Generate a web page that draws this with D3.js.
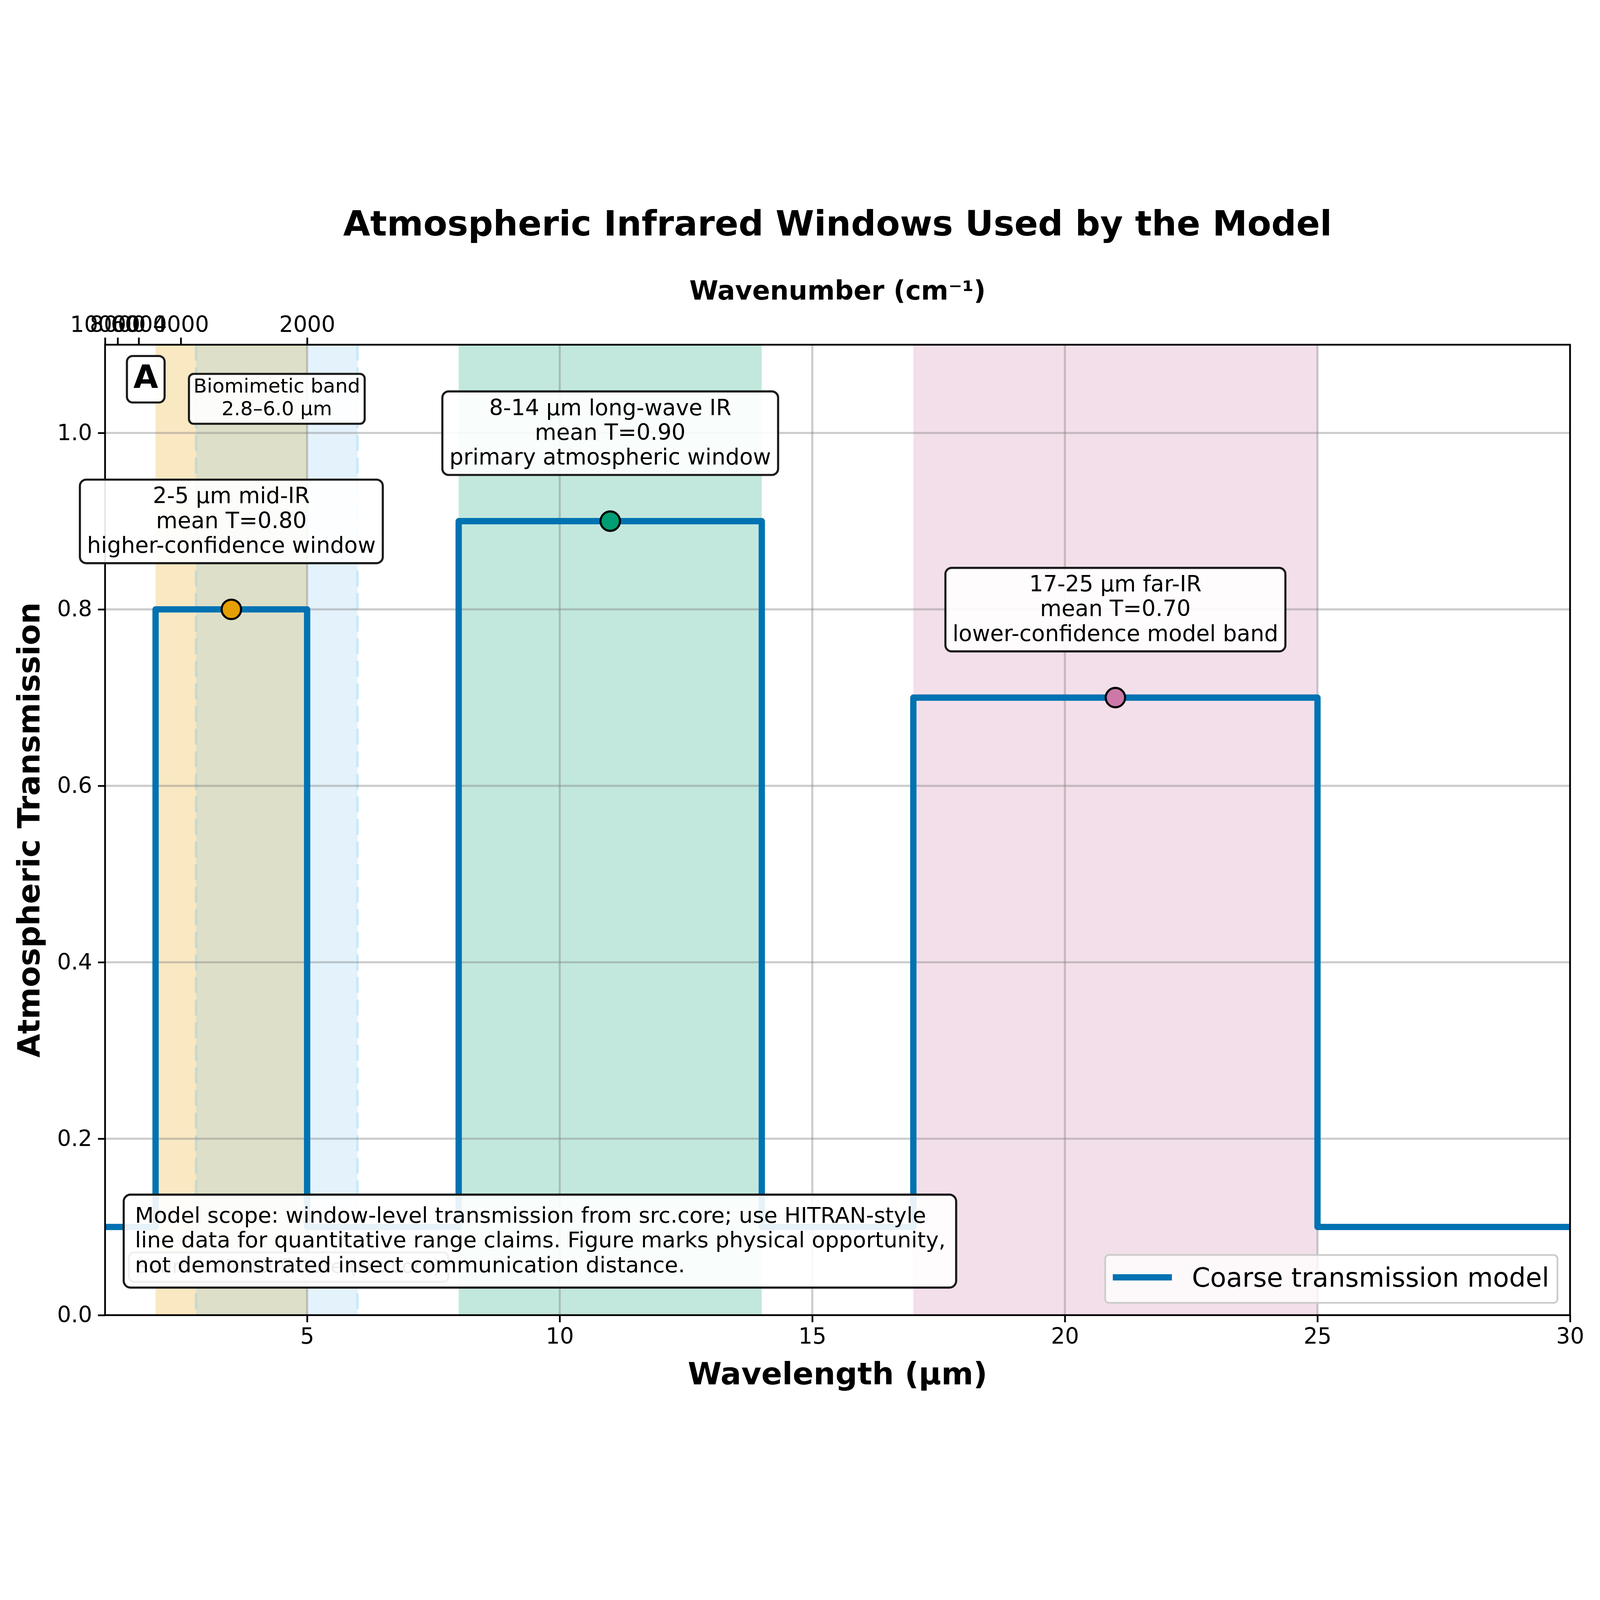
<!DOCTYPE html>
<html lang="en">
<head>
<meta charset="utf-8">
<title>Atmospheric Infrared Windows</title>
<script src="https://cdn.jsdelivr.net/npm/d3@7"></script>
<style>
  html, body { margin: 0; padding: 0; background: #fff; overflow: hidden; }
  svg { display: block; font-family: "DejaVu Sans", sans-serif; }
</style>
</head>
<body>
<script>
// ---- data ----
var wavelengthEdges = [1, 2, 5, 8, 14, 17, 25, 30];
var transmission   = [0.1, 0.8, 0.1, 0.9, 0.1, 0.7, 0.1, 0.1];

var windowNames  = ["2-5 \u00b5m mid-IR", "8-14 \u00b5m long-wave IR", "17-25 \u00b5m far-IR"];
var windowStart  = [2, 8, 17];
var windowEnd    = [5, 14, 25];
var windowMeanT  = [0.80, 0.90, 0.70];
var windowNotes  = ["higher-confidence window", "primary atmospheric window", "lower-confidence model band"];
var windowColors = ["#E69F00", "#009E73", "#CC79A7"];

var bioBand = [2.8, 6.0];
var bioLabel = ["Biomimetic band", "2.8\u20136.0 \u00b5m"];

var xTicks = [5, 10, 15, 20, 25, 30];
var yTicks = [0, 0.2, 0.4, 0.6, 0.8, 1.0];
var wavenumberTicks = [10000, 8000, 6000, 4000, 2000];

var scopeLines = [
  "Model scope: window-level transmission from src.core; use HITRAN-style",
  "line data for quantitative range claims. Figure marks physical opportunity,",
  "not demonstrated insect communication distance."
];
var sourceNote = "Source: Model fixture (src.core)";
var legendLabel = "Coarse transmission model";

// ---- layout ----
var W = 6092, H = 4621;
var pL = 400, pR = 5978, pT = 577, pB = 4272;
var lw = 6.65;          // 1pt
var tickFont = 84;

var svg = d3.select("body").append("svg")
  .attr("viewBox", "0 0 " + W + " " + H)
  .attr("preserveAspectRatio", "xMidYMid meet")
  .style("width", "100vw").style("height", "100vh");
svg.append("rect").attr("width", W).attr("height", H).attr("fill", "#fff");

var x = d3.scaleLinear().domain([1, 30]).range([pL, pR]);
var y = d3.scaleLinear().domain([0, 1.1]).range([pB, pT]);

svg.append("clipPath").attr("id", "plot")
  .append("rect").attr("x", pL).attr("y", pT)
  .attr("width", pR - pL).attr("height", pB - pT);

var plot = svg.append("g").attr("clip-path", "url(#plot)");

// window bands
windowStart.forEach(function(s, i) {
  plot.append("rect")
    .attr("x", x(s)).attr("y", pT)
    .attr("width", x(windowEnd[i]) - x(s)).attr("height", pB - pT)
    .attr("fill", windowColors[i]).attr("fill-opacity", 0.24);
});

// biomimetic band
plot.append("rect")
  .attr("x", x(bioBand[0])).attr("y", pT)
  .attr("width", x(bioBand[1]) - x(bioBand[0])).attr("height", pB - pT)
  .attr("fill", "#56B4E9").attr("fill-opacity", 0.17);
bioBand.forEach(function(b) {
  plot.append("line")
    .attr("x1", x(b)).attr("x2", x(b)).attr("y1", pT).attr("y2", pB)
    .attr("stroke", "#56B4E9").attr("stroke-opacity", 0.22)
    .attr("stroke-width", 10).attr("stroke-dasharray", "60,26");
});

// grid
xTicks.forEach(function(t) {
  plot.append("line").attr("x1", x(t)).attr("x2", x(t)).attr("y1", pT).attr("y2", pB)
    .attr("stroke", "#808080").attr("stroke-opacity", 0.4).attr("stroke-width", 8);
});
yTicks.forEach(function(t) {
  plot.append("line").attr("x1", pL).attr("x2", pR).attr("y1", y(t)).attr("y2", y(t))
    .attr("stroke", "#808080").attr("stroke-opacity", 0.4).attr("stroke-width", 8);
});

// step line
var stepData = wavelengthEdges.map(function(w, i) { return [w, transmission[i]]; });
var line = d3.line()
  .x(function(d) { return x(d[0]); })
  .y(function(d) { return y(d[1]); })
  .curve(d3.curveStepAfter);
plot.append("path").datum(stepData)
  .attr("d", line).attr("fill", "none")
  .attr("stroke", "#0072B2").attr("stroke-width", 24)
  .attr("stroke-linejoin", "round");

// window mean markers
windowStart.forEach(function(s, i) {
  var mx = (s + windowEnd[i]) / 2;
  plot.append("circle")
    .attr("cx", x(mx)).attr("cy", y(windowMeanT[i])).attr("r", 37)
    .attr("fill", windowColors[i]).attr("stroke", "#000").attr("stroke-width", 8);
});

// frame
svg.append("rect").attr("x", pL).attr("y", pT)
  .attr("width", pR - pL).attr("height", pB - pT)
  .attr("fill", "none").attr("stroke", "#000").attr("stroke-width", lw);

// axes
function styleAxis(g) {
  g.select(".domain").remove();
  g.selectAll(".tick line").attr("stroke", "#000").attr("stroke-width", lw);
  g.selectAll(".tick text").attr("fill", "#000")
    .attr("font-size", tickFont).attr("font-family", "DejaVu Sans");
}

svg.append("g").attr("transform", "translate(0," + pB + ")")
  .call(d3.axisBottom(x).tickValues(xTicks).tickSize(27).tickPadding(22).tickFormat(d3.format("d")))
  .call(styleAxis);

svg.append("g").attr("transform", "translate(" + pL + ",0)")
  .call(d3.axisLeft(y).tickValues(yTicks).tickSize(27).tickPadding(22).tickFormat(d3.format(".1f")))
  .call(styleAxis);

svg.append("g").attr("transform", "translate(0," + pT + ")")
  .call(d3.axisTop(x)
    .tickValues(wavenumberTicks.map(function(v) { return 1e4 / v; }))
    .tickSize(27).tickPadding(22)
    .tickFormat(function(d) { return String(Math.round(1e4 / d)); }))
  .call(styleAxis);

// labels
var cx = (pL + pR) / 2;
svg.append("text").attr("x", cx).attr("y", 162).attr("text-anchor", "middle")
  .attr("font-size", 133).attr("font-weight", "bold")
  .text("Atmospheric Infrared Windows Used by the Model");
svg.append("text").attr("x", cx).attr("y", 405).attr("text-anchor", "middle")
  .attr("font-size", 100).attr("font-weight", "bold")
  .text("Wavenumber (cm\u207b\u00b9)");
svg.append("text").attr("x", cx).attr("y", 4536).attr("text-anchor", "middle")
  .attr("font-size", 117).attr("font-weight", "bold")
  .text("Wavelength (\u00b5m)");
svg.append("text")
  .attr("transform", "translate(150," + ((pT + pB) / 2) + ") rotate(-90)")
  .attr("text-anchor", "middle")
  .attr("font-size", 117).attr("font-weight", "bold")
  .text("Atmospheric Transmission");

// text box helper
function textBox(lines, o) {
  var g = svg.append("g");
  var rect = g.append("rect");
  var t = g.append("text").attr("font-size", o.size)
    .attr("fill", o.color || "#000")
    .attr("text-anchor", o.anchor || "middle");
  lines.forEach(function(s, i) {
    t.append("tspan").attr("x", o.tx).attr("y", o.boxTop + o.first + i * o.gap).text(s);
  });
  var wMax = 0;
  t.selectAll("tspan").each(function() { wMax = Math.max(wMax, this.getComputedTextLength()); });
  var bx = (o.anchor === "start") ? o.tx - o.padL : o.tx - wMax / 2 - o.padX;
  var bw = (o.anchor === "start") ? wMax + o.padL + o.padR : wMax + 2 * o.padX;
  rect.attr("x", bx).attr("y", o.boxTop).attr("width", bw).attr("height", o.height)
    .attr("rx", o.rx || 24)
    .attr("fill", "#fff").attr("fill-opacity", o.fillOpacity == null ? 0.9 : o.fillOpacity)
    .attr("stroke", o.stroke || "#1a1a1a").attr("stroke-width", o.sw || 8);
  return g;
}

// panel letter
textBox(["A"], { tx: 555, boxTop: 620, first: 122, gap: 0, size: 122, padX: 30, height: 177, rx: 22 })
  .select("text").attr("font-weight", "bold");

// biomimetic label
textBox(bioLabel, { tx: x((bioBand[0] + bioBand[1]) / 2), boxTop: 688, first: 71, gap: 86, size: 75, padX: 17, height: 190, rx: 18 });

// window annotations
windowStart.forEach(function(s, i) {
  var mx = (s + windowEnd[i]) / 2;
  var by = y(windowMeanT[i]) - 176 - 318;
  textBox([windowNames[i], "mean T=" + windowMeanT[i].toFixed(2), windowNotes[i]],
    { tx: x(mx), boxTop: by, first: 90, gap: 94, size: 84, padX: 27, height: 318, rx: 24 });
});

// hidden source note, then scope box over it
textBox([sourceNote], { tx: 516, boxTop: 4033, first: 78, gap: 0, size: 74, anchor: "start",
  padL: 25, padR: 29, height: 112, rx: 20, color: "#333", stroke: "#666", fillOpacity: 1 });
textBox(scopeLines, { tx: 514, boxTop: 3813, first: 107, gap: 94, size: 83, anchor: "start",
  padL: 43, padR: 40, height: 354, rx: 26 });

// legend
var lg = svg.append("g");
lg.append("rect").attr("x", 4208).attr("y", 4043).attr("width", 5930 - 4208).attr("height", 182)
  .attr("rx", 14).attr("fill", "#fff").attr("fill-opacity", 0.8)
  .attr("stroke", "#cccccc").attr("stroke-width", lw);
lg.append("line").attr("x1", 4237).attr("x2", 4462).attr("y1", 4128).attr("y2", 4128)
  .attr("stroke", "#0072B2").attr("stroke-width", 24);
lg.append("text").attr("x", 4538).attr("y", 4164).attr("font-size", 100).text(legendLabel);
</script>
</body>
</html>
